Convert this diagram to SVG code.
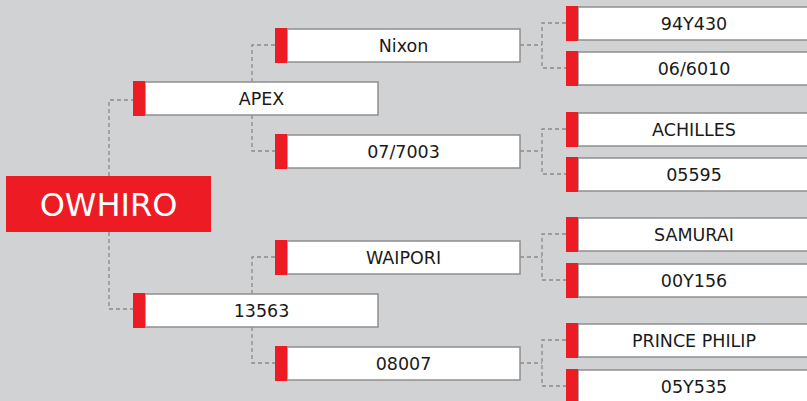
<svg xmlns="http://www.w3.org/2000/svg" width="807" height="401" viewBox="0 0 807 401">
<style>
.bar{fill:#ed1c24}
.box{fill:#ffffff;stroke:#8f8f8f;stroke-width:1.5}
.t{font-family:"DejaVu Sans","Liberation Sans",sans-serif;font-size:17.5px;fill:#1a1a1a;text-anchor:middle}
.rt{font-family:"DejaVu Sans","Liberation Sans",sans-serif;font-size:32px;fill:#ffffff;text-anchor:middle}
.c{fill:none;stroke:#8a8a8a;stroke-width:1.3;stroke-dasharray:4 3}
</style>
<rect x="0" y="0" width="807" height="401" fill="#d1d2d4"/>
<g id="connectors">
<path class="c" d="M109,176 V100 H133 M109,232 V309 H133"/>
<path class="c" d="M252,82 V45 H275 M252,115 V151 H275"/>
<path class="c" d="M252,294 V257 H275 M252,327 V363 H275"/>
<path class="c" d="M520,45 H542 M566,23 H542 V68 H566"/>
<path class="c" d="M520,151 H542 M566,129 H542 V174 H566"/>
<path class="c" d="M520,257 H542 M566,234 H542 V280 H566"/>
<path class="c" d="M520,363 H542 M566,340 H542 V386 H566"/>
</g>
<g id="owhiro">
<rect x="6" y="176" width="205" height="56" class="bar"/>
<text class="rt" x="108.5" y="215.5">OWHIRO</text>
</g>
<g id="apex">
<rect class="box" x="145" y="82" width="233" height="33"/>
<rect class="bar" x="133" y="81" width="12" height="35"/>
<text class="t" x="261.5" y="105">APEX</text>
</g>
<g id="n13563">
<rect class="box" x="145" y="294" width="233" height="33"/>
<rect class="bar" x="133" y="293" width="12" height="35"/>
<text class="t" x="261.5" y="317">13563</text>
</g>
<g id="nixon">
<rect class="box" x="287" y="29" width="233" height="33"/>
<rect class="bar" x="275" y="28" width="12" height="35"/>
<text class="t" x="403.5" y="52">Nixon</text>
</g>
<g id="n07-7003">
<rect class="box" x="287" y="135" width="233" height="33"/>
<rect class="bar" x="275" y="134" width="12" height="35"/>
<text class="t" x="403.5" y="158">07/7003</text>
</g>
<g id="waipori">
<rect class="box" x="287" y="241" width="233" height="33"/>
<rect class="bar" x="275" y="240" width="12" height="35"/>
<text class="t" x="403.5" y="264">WAIPORI</text>
</g>
<g id="n08007">
<rect class="box" x="287" y="347" width="233" height="33"/>
<rect class="bar" x="275" y="346" width="12" height="35"/>
<text class="t" x="403.5" y="370">08007</text>
</g>
<g id="n94Y430">
<rect class="box" x="578" y="7" width="240" height="33"/>
<rect class="bar" x="566" y="6" width="12" height="35"/>
<text class="t" x="694" y="30">94Y430</text>
</g>
<g id="n06-6010">
<rect class="box" x="578" y="52" width="240" height="33"/>
<rect class="bar" x="566" y="51" width="12" height="35"/>
<text class="t" x="694" y="75">06/6010</text>
</g>
<g id="achilles">
<rect class="box" x="578" y="113" width="240" height="33"/>
<rect class="bar" x="566" y="112" width="12" height="35"/>
<text class="t" x="694" y="136">ACHILLES</text>
</g>
<g id="n05595">
<rect class="box" x="578" y="158" width="240" height="33"/>
<rect class="bar" x="566" y="157" width="12" height="35"/>
<text class="t" x="694" y="181">05595</text>
</g>
<g id="samurai">
<rect class="box" x="578" y="218" width="240" height="33"/>
<rect class="bar" x="566" y="217" width="12" height="35"/>
<text class="t" x="694" y="241">SAMURAI</text>
</g>
<g id="n00Y156">
<rect class="box" x="578" y="264" width="240" height="33"/>
<rect class="bar" x="566" y="263" width="12" height="35"/>
<text class="t" x="694" y="287">00Y156</text>
</g>
<g id="prince-philip">
<rect class="box" x="578" y="324" width="240" height="33"/>
<rect class="bar" x="566" y="323" width="12" height="35"/>
<text class="t" x="694" y="347">PRINCE PHILIP</text>
</g>
<g id="n05Y535">
<rect class="box" x="578" y="370" width="240" height="33"/>
<rect class="bar" x="566" y="369" width="12" height="35"/>
<text class="t" x="694" y="393">05Y535</text>
</g>
</svg>
